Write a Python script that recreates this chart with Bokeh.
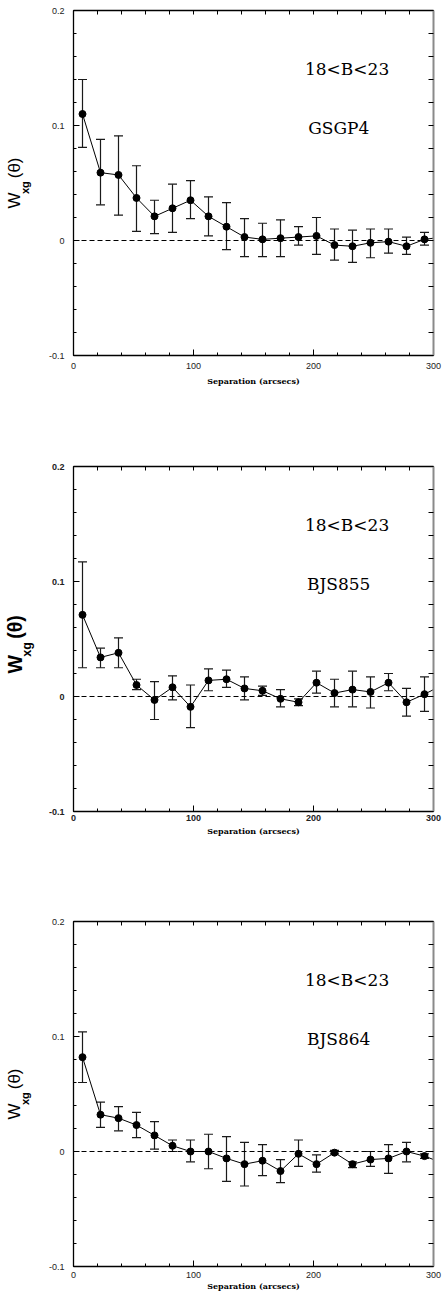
from bokeh.plotting import figure
from bokeh.layouts import column
from bokeh.models import FixedTicker, LinearAxis, Range1d, Span, Label
from bokeh.embed import file_html
from bokeh.resources import INLINE

# ---------------- data ----------------
separation = [7.5, 22.5, 37.5, 52.5, 67.5, 82.5, 97.5, 112.5, 127.5, 142.5,
              157.5, 172.5, 187.5, 202.5, 217.5, 232.5, 247.5, 262.5, 277.5,
              292.5, 307.5]
magnitude_label = "18<B<23"
field_names = ["GSGP4", "BJS855", "BJS864"]
x_axis_title = "Separation (arcsecs)"
y_axis_title_main = ["W", "(θ)"]
y_axis_title_sub = "xg"
x_tick_values = [0, 100, 200, 300]
y_tick_values = [-0.1, 0, 0.1, 0.2]
y_tick_labels = ["-0.1", "0", "0.1", "0.2"]

w_gsgp4 = [0.110, 0.059, 0.057, 0.037, 0.021, 0.028, 0.035, 0.021, 0.012, 0.003,
           0.001, 0.002, 0.003, 0.004, -0.004, -0.005, -0.002, -0.001, -0.005,
           0.001, 0.003]
hi_gsgp4 = [0.140, 0.088, 0.091, 0.065, 0.035, 0.049, 0.052, 0.038, 0.033, 0.019,
            0.015, 0.018, 0.012, 0.020, 0.010, 0.009, 0.010, 0.010, 0.003, 0.007]
lo_gsgp4 = [0.081, 0.031, 0.022, 0.008, 0.006, 0.007, 0.019, 0.004, -0.008, -0.014,
            -0.014, -0.014, -0.004, -0.012, -0.017, -0.019, -0.015, -0.011, -0.012,
            -0.004]

w_bjs855 = [0.071, 0.034, 0.038, 0.010, -0.003, 0.008, -0.009, 0.014, 0.015, 0.007,
            0.005, -0.002, -0.005, 0.012, 0.003, 0.006, 0.004, 0.012, -0.005,
            0.002, 0.010]
hi_bjs855 = [0.117, 0.042, 0.051, 0.015, 0.013, 0.018, 0.010, 0.024, 0.023, 0.017,
             0.009, 0.006, -0.002, 0.022, 0.015, 0.022, 0.017, 0.020, 0.007, 0.017]
lo_bjs855 = [0.025, 0.025, 0.025, 0.006, -0.020, -0.003, -0.027, 0.005, 0.008, -0.003,
             0.001, -0.009, -0.008, 0.003, -0.009, -0.009, -0.010, 0.005, -0.017,
             -0.013]

w_bjs864 = [0.082, 0.032, 0.029, 0.023, 0.014, 0.005, 0.000, 0.000, -0.006, -0.011,
            -0.008, -0.017, -0.002, -0.011, -0.001, -0.011, -0.007, -0.006, 0.000,
            -0.004, -0.010]
hi_bjs864 = [0.104, 0.043, 0.039, 0.034, 0.026, 0.010, 0.010, 0.015, 0.013, 0.008,
             0.006, -0.007, 0.010, -0.003, 0.001, -0.009, 0.000, 0.006, 0.008, -0.002]
lo_bjs864 = [0.060, 0.021, 0.018, 0.012, 0.002, 0.000, -0.009, -0.015, -0.026, -0.030,
             -0.021, -0.027, -0.013, -0.018, -0.002, -0.014, -0.013, -0.019, -0.009,
             -0.006]

series = [
    (w_gsgp4, hi_gsgp4, lo_gsgp4),
    (w_bjs855, hi_bjs855, lo_bjs855),
    (w_bjs864, hi_bjs864, lo_bjs864),
]

# ---------------- layout / style ----------------
NB = "\u00a0"   # non-breaking space used to position the pieces of the y title
styles = [
    dict(h=420, top=10, bottom=65, bold=False, tstand=7, lstand=4,
         f_main=17, f_sub=11, s_sub=15, s_main=-8, pad_main=0, pad_sub=3),
    dict(h=456, top=46, bottom=65, bold=True, tstand=3, lstand=2,
         f_main=19.5, f_sub=12.6, s_sub=12, s_main=-9, pad_main=2, pad_sub=6),
    dict(h=417, top=45, bottom=27, bold=False, tstand=5, lstand=0,
         f_main=17, f_sub=11, s_sub=15, s_main=-8, pad_main=0, pad_sub=3),
]

x_minor = list(range(0, 301, 20))
y_minor = [round(-0.1 + 0.02 * i, 2) for i in range(16)]
DPP = 0.3 / 345.0  # data units per pixel (y)


def style_axis(ax, line_color="black", line_width=1.3, minor_len=3):
    ax.major_tick_in = 6
    ax.major_tick_out = 0
    ax.minor_tick_in = minor_len
    ax.minor_tick_out = 0
    ax.major_tick_line_color = "black"
    ax.minor_tick_line_color = "black"
    ax.axis_line_color = line_color
    ax.axis_line_width = line_width


def make_panel(idx):
    st = styles[idx]
    w, hi, lo = series[idx]
    fstyle = "bold" if st["bold"] else "normal"
    p = figure(width=442, height=st["h"], x_range=Range1d(0, 300), y_range=Range1d(-0.1, 0.2),
               output_backend="svg", toolbar_location=None,
               min_border_left=73, min_border_right=9,
               min_border_top=st["top"], min_border_bottom=st["bottom"])
    p.grid.visible = False
    p.outline_line_color = None
    p.background_fill_color = "white"
    p.border_fill_color = "white"

    xt = FixedTicker(ticks=x_tick_values, minor_ticks=x_minor)
    yt = FixedTicker(ticks=y_tick_values, minor_ticks=y_minor)

    xa = p.xaxis[0]
    xa.ticker = xt
    style_axis(xa)
    xa.major_label_text_font = "Liberation Sans"
    xa.major_label_text_font_size = "9px"
    xa.major_label_text_font_style = fstyle
    xa.major_label_text_color = "#222222"
    xa.major_label_standoff = st["tstand"]
    xa.axis_label = x_axis_title
    xa.axis_label_text_font = "DejaVu Serif"
    xa.axis_label_text_font_size = "8px"
    xa.axis_label_text_font_style = "bold"
    xa.axis_label_text_color = "black"
    xa.axis_label_standoff = st["lstand"]

    ya = p.yaxis[0]
    ya.ticker = yt
    style_axis(ya)
    ya.major_label_overrides = {v: t for v, t in zip(y_tick_values, y_tick_labels)}
    ya.major_label_text_font = "Liberation Sans"
    ya.major_label_text_font_size = "9px"
    ya.major_label_text_font_style = fstyle
    ya.major_label_text_color = "#222222"
    ya.major_label_standoff = 9
    # subscript "xg" of the y title (nearest to the frame)
    ya.axis_label = y_axis_title_sub + NB * st["pad_sub"]
    ya.axis_label_text_font = "Liberation Sans"
    ya.axis_label_text_font_size = f"{st['f_sub']}px"
    ya.axis_label_text_font_style = "bold"
    ya.axis_label_text_color = "black"
    ya.axis_label_standoff = st["s_sub"]

    # "W   (θ)" part of the y title on an outer, tick-less axis
    title_ax = LinearAxis(ticker=FixedTicker(ticks=[], minor_ticks=[]))
    title_ax.axis_line_color = None
    title_ax.major_tick_line_color = None
    title_ax.minor_tick_line_color = None
    title_ax.major_label_standoff = 0
    title_ax.axis_label = y_axis_title_main[0] + NB * 3 + y_axis_title_main[1] + NB * st["pad_main"]
    title_ax.axis_label_text_font = "Liberation Sans"
    title_ax.axis_label_text_font_size = f"{st['f_main']}px"
    title_ax.axis_label_text_font_style = fstyle
    title_ax.axis_label_text_color = "black"
    title_ax.axis_label_standoff = st["s_main"]
    p.add_layout(title_ax, "left")

    # top and right frame ticks (tick marks only, no labels)
    top_ax = LinearAxis(ticker=FixedTicker(ticks=[], minor_ticks=x_minor))
    style_axis(top_ax, minor_len=4)
    p.add_layout(top_ax, "above")
    right_ax = LinearAxis(ticker=FixedTicker(ticks=[], minor_ticks=y_minor))
    style_axis(right_ax, line_color="#8a8a8a", line_width=2, minor_len=5)
    p.add_layout(right_ax, "right")

    p.add_layout(Span(location=0, dimension="width", line_color="black",
                      line_width=1, line_dash="5 3"))

    n = len(hi)
    xs = separation[:n]
    p.segment(x0=xs, y0=lo, x1=xs, y1=hi, line_color="#1a1a1a", line_width=1.2)
    p.scatter(x=xs, y=hi, marker="dash", size=9, line_color="#1a1a1a", line_width=1.2)
    p.scatter(x=xs, y=lo, marker="dash", size=9, line_color="#1a1a1a", line_width=1.2)
    p.line(x=separation, y=w, line_color="black", line_width=1)
    p.scatter(x=separation, y=w, size=7, fill_color="black", line_color="black")

    # in-plot titles
    p.add_layout(Label(x=228, y=0.2 - 58 * DPP, text=magnitude_label, text_align="center",
                       text_baseline="middle", text_font="DejaVu Serif",
                       text_font_size="17px", text_color="black"))
    p.add_layout(Label(x=221, y=0.2 - 117 * DPP, text=field_names[idx], text_align="center",
                       text_baseline="middle", text_font="DejaVu Serif",
                       text_font_size="17px", text_color="black"))
    return p


layout = column(*[make_panel(i) for i in range(3)], spacing=0)
open("out.html", "w").write(file_html(layout, INLINE))
